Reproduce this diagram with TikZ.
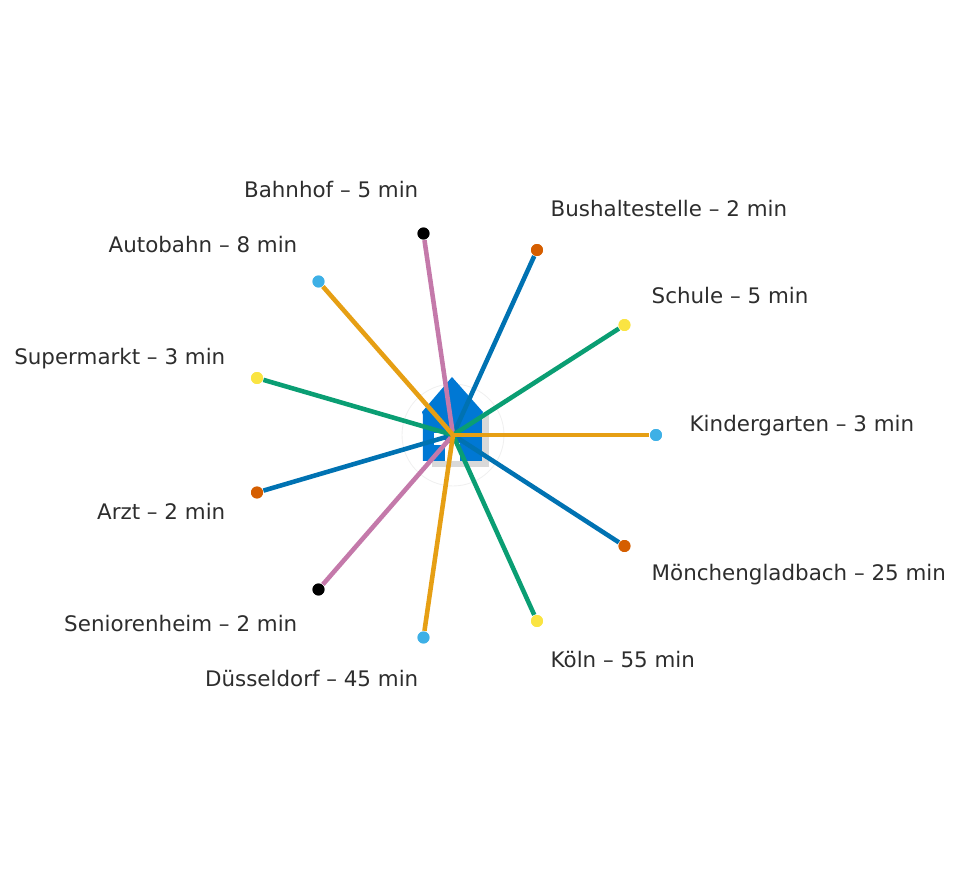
\documentclass[tikz,border=0pt]{standalone}
\usepackage{fontspec}
\setmainfont{DejaVu Sans}
\usepackage{xcolor}
\definecolor{house-blue}{RGB}{0,120,212}
\definecolor{wong-blue}{RGB}{0,114,178}
\definecolor{wong-orange}{RGB}{230,159,20}
\definecolor{wong-green}{RGB}{10,158,115}
\definecolor{wong-pink}{RGB}{196,121,170}
\definecolor{wong-sky}{RGB}{62,176,230}
\definecolor{wong-red}{RGB}{213,94,0}
\definecolor{wong-yellow}{RGB}{250,228,66}
\definecolor{label-gray}{RGB}{45,45,45}
\tikzset{
	ray/.style={line width=1.3pt},
	stop/.style={circle,inner sep=0pt,minimum size=3.4pt},
	place/.style={text=label-gray,font=\fontsize{6.09}{7.5}\selectfont,inner sep=0pt},
}
\begin{document}
\begin{tikzpicture}[x=1cm,y=1cm]
	\useasboundingbox (0,0) rectangle (9.6,8.71);
	\coordinate (home) at (4.53,4.36);
	% house
	\draw[black!6,line width=.25pt] (home) circle (.51);
	\fill[black!15] (4.32,4.04) rectangle (4.89,4.56);
	\fill[house-blue] (4.23,4.10)--(4.23,4.56)--(4.22,4.59)--(4.52,4.94)--(4.83,4.59)--(4.82,4.56)--(4.82,4.10)--cycle;
	\fill[white] (4.34,4.26) rectangle (4.45,4.38);
	\fill[white] (4.45,4.10) rectangle (4.60,4.28);

	\node[stop,fill=wong-sky] (kindergarten) at (6.56,4.36) {};
	\node[stop,fill=wong-yellow] (schule) at (6.245,5.46) {};
	\node[stop,fill=wong-red] (bushaltestelle) at (5.37,6.21) {};
	\node[stop,fill=black] (bahnhof) at (4.235,6.375) {};
	\node[stop,fill=wong-sky] (autobahn) at (3.185,5.895) {};
	\node[stop,fill=wong-yellow] (supermarkt) at (2.57,4.93) {};
	\node[stop,fill=wong-red] (arzt) at (2.57,3.785) {};
	\node[stop,fill=black] (seniorenheim) at (3.185,2.815) {};
	\node[stop,fill=wong-sky] (duesseldorf) at (4.235,2.335) {};
	\node[stop,fill=wong-yellow] (koeln) at (5.37,2.50) {};
	\node[stop,fill=wong-red] (gladbach) at (6.245,3.25) {};

	\draw[ray,wong-blue] (home)--(bushaltestelle);
	\draw[ray,wong-blue] (home)--(arzt);
	\draw[ray,wong-blue] (home)--(gladbach);
	\draw[ray,wong-pink] (home)--(seniorenheim);
	\draw[ray,wong-pink] (home)--(bahnhof);
	\draw[ray,wong-green] (home)--(schule);
	\draw[ray,wong-green] (home)--(supermarkt);
	\draw[ray,wong-green] (home)--(koeln);
	\draw[ray,wong-orange] (home)--(kindergarten);
	\draw[ray,wong-orange] (home)--(autobahn);
	\draw[ray,wong-orange] (home)--(duesseldorf);
	\foreach \s/\c in {kindergarten/wong-sky,schule/wong-yellow,bushaltestelle/wong-red,bahnhof/black,autobahn/wong-sky,supermarkt/wong-yellow,arzt/wong-red,seniorenheim/black,duesseldorf/wong-sky,koeln/wong-yellow,gladbach/wong-red}
		\fill[\c] (\s) circle (1.7pt);

	\node[place,anchor=base west] (l1) at (6.89,4.39) {Kindergarten – 3 min};
	\node[place,anchor=base west] (l2) at (6.51,5.67) {Schule – 5 min};
	\node[place,anchor=base west] (l3) at (5.50,6.54) {Bushaltestelle – 2 min};
	\node[place,anchor=base east] (l4) at (4.19,6.73) {Bahnhof – 5 min};
	\node[place,anchor=base east] (l5) at (2.98,6.18) {Autobahn – 8 min};
	\node[place,anchor=base east] (l6) at (2.26,5.06) {Supermarkt – 3 min};
	\node[place,anchor=base east] (l7) at (2.26,3.515) {Arzt – 2 min};
	\node[place,anchor=base east] (l8) at (2.98,2.395) {Seniorenheim – 2 min};
	\node[place,anchor=base east] (l9) at (4.19,1.84) {Düsseldorf – 45 min};
	\node[place,anchor=base west] (l10) at (5.50,2.03) {Köln – 55 min};
	\node[place,anchor=base west] (l11) at (6.51,2.905) {Mönchengladbach – 25 min};
\end{tikzpicture}
\end{document}
